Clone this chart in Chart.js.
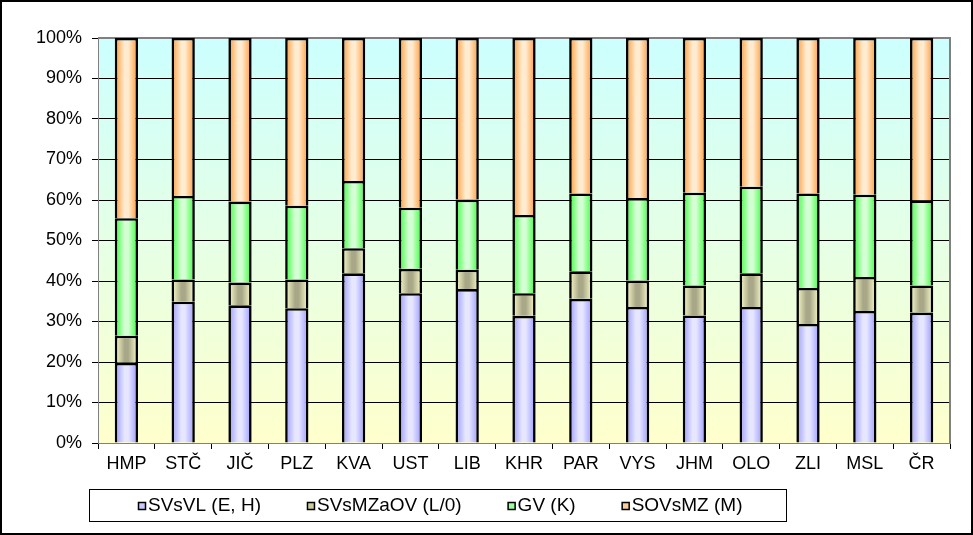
<!DOCTYPE html>
<html>
<head>
<meta charset="utf-8">
<script src="https://cdn.jsdelivr.net/npm/chart.js@4.4.0/dist/chart.umd.min.js"></script>
<style>
  html, body { margin: 0; padding: 0; background: #fff; }
  #wrap { width: 973px; height: 535px; }
</style>
</head>
<body>
<div id="wrap"><canvas id="chart"></canvas></div>
<script>
// kraje
const regions = ['HMP', 'STČ', 'JIČ', 'PLZ', 'KVA', 'UST', 'LIB', 'KHR', 'PAR', 'VYS', 'JHM', 'OLO', 'ZLI', 'MSL', 'ČR'];

// podíly v % (skládané do 100 %)
const svsvl    = [19.8, 34.9, 34.0, 33.3, 41.9, 37.0, 38.0, 31.4, 35.6, 33.6, 31.5, 33.6, 29.4, 32.6, 32.2];
const svsmzaov = [ 6.7,  5.5,  5.6,  7.1,  6.2,  6.0,  4.8,  5.6,  6.8,  6.5,  7.4,  8.3,  8.9,  8.4,  6.7];
const gv       = [29.0, 20.6, 20.0, 18.2, 16.6, 15.1, 17.3, 19.3, 19.2, 20.4, 22.9, 21.4, 23.3, 20.3, 21.0];
const sovsmz   = [44.5, 39.0, 40.4, 41.4, 35.3, 41.9, 39.9, 43.7, 38.4, 39.5, 38.2, 36.7, 38.4, 38.7, 40.1];

const seriesNames = ['SVsVL (E, H)', 'SVsMZaOV (L/0)', 'GV (K)', 'SOVsMZ (M)'];

const FONT = '"Liberation Sans", Arial, sans-serif';

// válcový přechod přes šířku sloupce
function barFill(edge, mid, fallback) {
  return function (c) {
    const chart = c.chart;
    const x = chart.scales.x;
    if (!x || c.type !== 'data' || !chart.chartArea) return fallback;
    const cx = x.getPixelForValue(c.dataIndex);
    const w = (x.right - x.left) / regions.length * 0.41;
    const g = chart.ctx.createLinearGradient(cx - w / 2, 0, cx + w / 2, 0);
    g.addColorStop(0, edge);
    g.addColorStop(0.42, mid);
    g.addColorStop(0.58, mid);
    g.addColorStop(1, edge);
    return g;
  };
}

const legendColors = ['#C8C8FF', '#CCCC99', '#99FF99', '#FFCC99'];

const plotBackground = {
  id: 'plotBackground',
  beforeDraw(chart) {
    const { ctx, chartArea: a } = chart;
    ctx.save();
    const g = ctx.createLinearGradient(0, a.top, 0, a.bottom);
    g.addColorStop(0, '#CCFFFF');
    g.addColorStop(1, '#FFFFCC');
    ctx.fillStyle = g;
    ctx.fillRect(a.left, a.top, a.right - a.left, a.bottom - a.top);
    ctx.restore();
  },
  beforeDatasetsDraw(chart) {
    const { ctx, chartArea: a } = chart;
    ctx.save();
    ctx.strokeStyle = '#808080';
    ctx.lineWidth = 2;
    ctx.beginPath();
    ctx.moveTo(a.left, a.top);
    ctx.lineTo(a.right, a.top);
    ctx.lineTo(a.right, a.bottom);
    ctx.stroke();
    ctx.restore();
  },
  afterDraw(chart) {
    const ctx = chart.ctx;
    ctx.save();
    // vnější rámeček
    ctx.strokeStyle = '#000';
    ctx.lineWidth = 2;
    ctx.strokeRect(1, 1, chart.width - 2, chart.height - 2);

    // legenda
    ctx.lineWidth = 1;
    ctx.strokeRect(89.5, 489.5, 697, 32);
    ctx.font = '19px ' + FONT;
    ctx.textBaseline = 'middle';
    ctx.fillStyle = '#000';
    const gap = 46, sq = 8;
    let total = 0;
    const widths = seriesNames.map(n => ctx.measureText(n).width);
    widths.forEach(w => total += sq + 2 + w);
    total += gap * (seriesNames.length - 1);
    let x = Math.round(440 - total / 2);
    const y = 506;
    seriesNames.forEach((n, i) => {
      ctx.fillStyle = legendColors[i];
      ctx.fillRect(x, y - 4, sq, sq);
      ctx.strokeStyle = '#000';
      ctx.lineWidth = 1.5;
      ctx.strokeRect(x + 0.5, y - 3.5, sq - 1, sq - 1);
      ctx.fillStyle = '#000';
      ctx.fillText(n, x + sq + 2, y);
      x += sq + 2 + widths[i] + gap;
    });
    ctx.restore();
  }
};

const common = { borderColor: '#000', borderWidth: 2.6, barPercentage: 0.41, categoryPercentage: 1 };

new Chart(document.getElementById('chart'), {
  type: 'bar',
  data: {
    labels: regions,
    datasets: [
      { label: seriesNames[0], data: svsvl,    backgroundColor: barFill('#9999FF', '#E6E6FF', legendColors[0]), ...common },
      { label: seriesNames[1], data: svsmzaov, backgroundColor: barFill('#FFFFCC', '#A8A888', legendColors[1]), ...common },
      { label: seriesNames[2], data: gv,       backgroundColor: barFill('#33FF33', '#D4FFD4', legendColors[2]), ...common },
      { label: seriesNames[3], data: sovsmz,   backgroundColor: barFill('#FF9933', '#FFEBD0', legendColors[3]), ...common }
    ]
  },
  plugins: [plotBackground],
  options: {
    responsive: true,
    maintainAspectRatio: false,
    animation: false,
    layout: { padding: { top: 38, right: 23, bottom: 56, left: 10 } },
    plugins: { legend: { display: false }, tooltip: { enabled: false } },
    scales: {
      x: {
        stacked: true,
        afterFit(scale) { scale.height = 36; },
        grid: { offset: true, drawOnChartArea: false, drawTicks: true, tickLength: 6, color: '#000' },
        border: { color: '#808080', width: 1 },
        ticks: { color: '#000', font: { family: FONT, size: 18 }, padding: 4, maxRotation: 0 }
      },
      y: {
        stacked: true,
        min: 0,
        max: 100,
        afterFit(scale) { scale.width = 88; },
        grid: { color: '#000', lineWidth: 1, tickLength: 6 },
        border: { color: '#808080', width: 1 },
        ticks: { stepSize: 10, color: '#000', font: { family: FONT, size: 18 }, padding: 10, callback: v => v + '%' }
      }
    }
  }
});
</script>
</body>
</html>
